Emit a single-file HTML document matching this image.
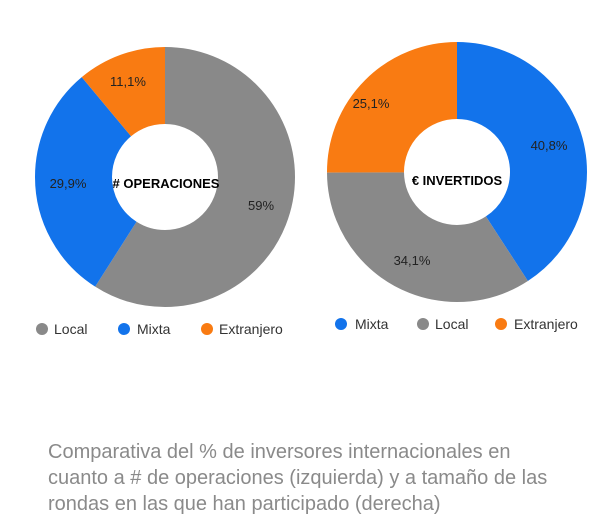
<!DOCTYPE html>
<html><head><meta charset="utf-8"><style>
body{margin:0;background:#fff;width:600px;height:531px;overflow:hidden;font-family:"Liberation Sans",sans-serif}
.cap{position:absolute;left:48px;top:439px;font-size:20px;line-height:26px;color:#8a8a8a;white-space:nowrap}
</style></head><body>
<svg width="600" height="531" style="position:absolute;left:0;top:0" font-family="Liberation Sans, sans-serif">
<g transform="rotate(-90 165 177)" fill="none" stroke-width="77">
<circle cx="165" cy="177" r="91.5" stroke="#898989" stroke-dasharray="339.2 600"/>
<circle cx="165" cy="177" r="91.5" stroke="#1273eb" stroke-dasharray="0 339.2 171.9 600"/>
<circle cx="165" cy="177" r="91.5" stroke="#f97b12" stroke-dasharray="0 511.1 63.9 600"/>
</g>
<g transform="rotate(-90 457 172)" fill="none" stroke-width="77">
<circle cx="457" cy="172" r="91.5" stroke="#1273eb" stroke-dasharray="234.6 600"/>
<circle cx="457" cy="172" r="91.5" stroke="#898989" stroke-dasharray="0 234.6 196.0 600"/>
<circle cx="457" cy="172" r="91.5" stroke="#f97b12" stroke-dasharray="0 430.6 144.4 600"/>
</g>
<g font-size="13" fill="#222" text-anchor="middle">
<text x="261" y="210">59%</text>
<text x="68" y="188">29,9%</text>
<text x="128" y="86">11,1%</text>
<text x="549" y="150">40,8%</text>
<text x="412" y="265">34,1%</text>
<text x="371" y="108">25,1%</text>
<text x="166" y="188" font-weight="bold" fill="#000">#&#160;OPERACIONES</text>
<text x="457" y="185" font-weight="bold" fill="#000">€ INVERTIDOS</text>
</g>
<g font-size="14" fill="#333">
<circle cx="42" cy="329" r="6" fill="#898989"/><text x="54" y="334">Local</text>
<circle cx="124" cy="329" r="6" fill="#1273eb"/><text x="137" y="334">Mixta</text>
<circle cx="207" cy="329" r="6" fill="#f97b12"/><text x="219" y="334">Extranjero</text>
<circle cx="341" cy="324" r="6" fill="#1273eb"/><text x="355" y="329">Mixta</text>
<circle cx="423" cy="324" r="6" fill="#898989"/><text x="435" y="329">Local</text>
<circle cx="501" cy="324" r="6" fill="#f97b12"/><text x="514" y="329">Extranjero</text>
</g>
</svg>
<div class="cap">Comparativa del % de inversores internacionales en<br>cuanto a # de operaciones (izquierda) y a tamaño de las<br>rondas en las que han participado (derecha)</div>
</body></html>
